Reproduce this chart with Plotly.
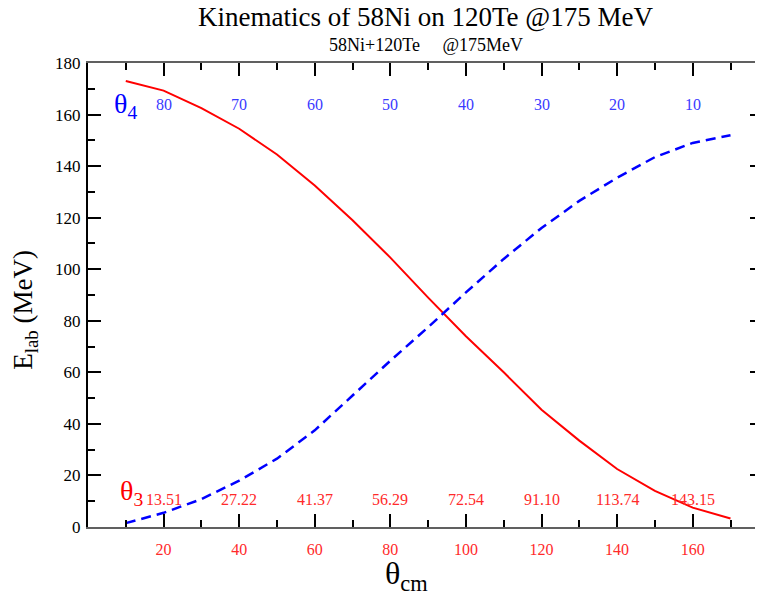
import plotly.graph_objects as go

# --- data ---
theta_cm = [10, 20, 30, 40, 50, 60, 70, 80, 90, 100, 110, 120, 130, 140, 150, 160, 170]
e_theta3 = [173.0, 169.3, 162.5, 154.5, 144.5, 132.5, 119.0, 104.5, 89.0, 74.0, 60.0,
            45.5, 33.5, 22.5, 14.0, 7.5, 3.3]
e_theta4 = [1.5, 5.5, 10.8, 18.0, 26.5, 37.5, 51.0, 64.5, 77.5, 91.0, 104.0,
            116.0, 126.5, 135.5, 143.5, 149.0, 152.0]

label_cm = [20, 40, 60, 80, 100, 120, 140, 160]
theta4_labels = ["80", "70", "60", "50", "40", "30", "20", "10"]
theta3_labels = ["13.51", "27.22", "41.37", "56.29", "72.54", "91.10", "113.74", "143.15"]
x_tick_vals = [20, 40, 60, 80, 100, 120, 140, 160]
x_tick_text = ["20", "40", "60", "80", "100", "120", "140", "160"]

title = "Kinematics of 58Ni on 120Te @175 MeV"
subtitle = "58Ni+120Te" + "\u00a0" * 5 + "@175MeV"

FONT = "Liberation Serif"
RED = "#ff0000"
BLUE = "#0000ff"
LBLUE = "#3a3aff"
LRED = "#ff2a2a"

fig = go.Figure()
fig.add_trace(go.Scatter(x=theta_cm, y=e_theta3, mode="lines",
                         line=dict(color=RED, width=2), showlegend=False))
fig.add_trace(go.Scatter(x=theta_cm, y=e_theta4, mode="lines",
                         line=dict(color=BLUE, width=2.5, dash="10px,6px"), showlegend=False))

anns = []
for xv, t in zip(label_cm, theta4_labels):
    anns.append(dict(x=xv, y=163.8, xref="x", yref="y", text=t, showarrow=False,
                     font=dict(family=FONT, size=16, color=LBLUE)))
for xv, t in zip(label_cm, theta3_labels):
    anns.append(dict(x=xv, y=10.6, xref="x", yref="y", text=t, showarrow=False,
                     font=dict(family=FONT, size=16, color=LRED)))

anns.append(dict(x=6.4, y=163.5, xref="x", yref="y", text="θ<sub>4</sub>", showarrow=False,
                 xanchor="left", yanchor="middle", font=dict(family=FONT, size=28, color=BLUE)))
anns.append(dict(x=7.9, y=13.5, xref="x", yref="y", text="θ<sub>3</sub>", showarrow=False,
                 xanchor="left", yanchor="middle", font=dict(family=FONT, size=28, color=RED)))

anns.append(dict(x=0.5, y=1.0994, xref="paper", yref="paper", text=title, showarrow=False,
                 xanchor="center", yanchor="middle",
                 font=dict(family=FONT, size=27, color="black")))
anns.append(dict(x=0.5, y=1.0386, xref="paper", yref="paper", text=subtitle, showarrow=False,
                 xanchor="center", yanchor="middle",
                 font=dict(family=FONT, size=18, color="black")))
anns.append(dict(x=0.472, y=-0.152, xref="paper", yref="paper", text="θ<sub>cm</sub>",
                 showarrow=False, xanchor="center", yanchor="bottom",
                 font=dict(family=FONT, size=32, color="black")))
anns.append(dict(x=-0.1215, y=0.468, xref="paper", yref="paper", text="E<sub>lab</sub> (MeV)",
                 showarrow=False, textangle=-90, xanchor="left", yanchor="middle",
                 font=dict(family=FONT, size=27, color="black")))

# the page body has an 8px margin, so the figure is a little smaller than the window
fig.update_layout(
    width=755, height=589,
    margin=dict(l=80, r=0, t=55, b=70, autoexpand=False),
    paper_bgcolor="white", plot_bgcolor="white",
    annotations=anns,
    showlegend=False,
)
fig.update_xaxes(
    range=[0, 178.6], tickmode="array", tickvals=x_tick_vals, ticktext=x_tick_text,
    ticks="inside", ticklen=13, tickwidth=2, tickcolor="black",
    minor=dict(tickmode="linear", tick0=0, dtick=10, ticks="inside", ticklen=7,
               tickwidth=2, tickcolor="black"),
    showline=True, linecolor="#606060", linewidth=2, mirror="ticks",
    showgrid=False, zeroline=False,
    tickfont=dict(family=FONT, size=16, color=LRED),
    ticklabelstandoff=7,
    automargin=False,
)
fig.update_yaxes(
    range=[0, 180], tick0=0, dtick=20,
    ticks="inside", ticklen=13, tickwidth=1.5, tickcolor="black",
    minor=dict(tick0=0, dtick=10, ticks="inside", ticklen=7, tickwidth=1.5,
               tickcolor="black"),
    showline=True, linecolor="black", linewidth=2, mirror="ticks",
    showgrid=False, zeroline=False,
    tickfont=dict(family=FONT, size=17, color="black"),
    ticklabelstandoff=2,
    automargin=False,
)

fig.write_html("out.html")
